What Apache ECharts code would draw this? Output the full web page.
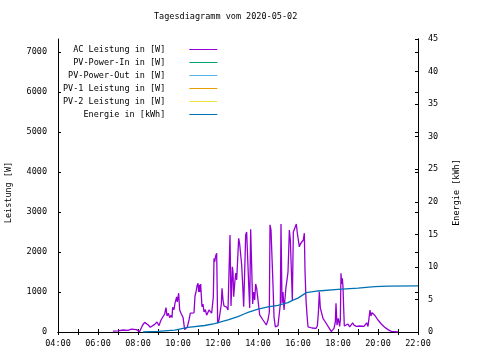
<!DOCTYPE html>
<html><head><meta charset="utf-8">
<script src="https://cdn.jsdelivr.net/npm/echarts@6/dist/echarts.min.js"></script>
<style>html,body{margin:0;padding:0;background:#fff}#c{width:480px;height:360px}</style>
</head><body><div id="c"></div>
<script>
const titleText = 'Tagesdiagramm vom 2020-05-02';
const seriesNames = ['AC Leistung in [W]','PV-Power-In in [W]','PV-Power-Out in [W]','PV-1 Leistung in [W]','PV-2 Leistung in [W]','Energie in [kWh]'];
const seriesColors = ['#9400d3','#009e73','#56b4e9','#e69f00','#f0e442','#0072b2'];
const leftAxisName = 'Leistung [W]';
const rightAxisName = 'Energie [kWh]';

const acTimes = ['06:45','07:00','07:15','07:30','07:40','07:55','08:05','08:10','08:14','08:20','08:25','08:30','08:37','08:43','08:50','08:57','09:03','09:09','09:15','09:20','09:24','09:27','09:31','09:35','09:39','09:42','09:44','09:48','09:51','09:56','09:58','10:02','10:05','10:10','10:15','10:20','10:24','10:28','10:33','10:37','10:43','10:48','10:51','10:54','10:57','11:00','11:02','11:04','11:06','11:08','11:10','11:12','11:15','11:18','11:22','11:26','11:30','11:33','11:37','11:41','11:44','11:46','11:48','11:50','11:53','11:56','11:59','12:03','12:06','12:10','12:12','12:15','12:18','12:22','12:26','12:30','12:34','12:36','12:39','12:41','12:43','12:45','12:47','12:50','12:53','12:56','12:59','13:02','13:05','13:08','13:11','13:14','13:17','13:20','13:23','13:26','13:29','13:32','13:35','13:38','13:41','13:44','13:47','13:50','13:53','13:56','13:59','14:02','14:05','14:10','14:15','14:20','14:25','14:30','14:34','14:36','14:39','14:42','14:45','14:48','14:52','14:56','15:00','15:04','15:07','15:09','15:12','15:15','15:18','15:21','15:24','15:27','15:30','15:32','15:34','15:37','15:40','15:43','15:46','15:49','15:52','15:55','15:58','16:01','16:04','16:07','16:10','16:13','16:16','16:19','16:21','16:24','16:27','16:30','16:36','16:42','16:48','16:54','16:58','17:01','17:04','17:07','17:10','17:15','17:22','17:28','17:34','17:40','17:44','17:48','17:52','17:54','17:57','18:01','18:05','18:07','18:09','18:11','18:13','18:15','18:17','18:19','18:24','18:30','18:35','18:40','18:44','18:48','18:55','19:00','19:06','19:12','19:18','19:22','19:26','19:30','19:34','19:36','19:39','19:42','19:45','19:50','19:55','20:00','20:05','20:10','20:15','20:20','20:25','20:30','20:35','20:40','20:45','21:00'];
const acValues = [20,30,50,40,70,60,10,60,175,240,250,180,120,130,190,250,160,300,280,450,610,400,470,360,420,360,620,560,720,880,750,970,550,450,370,60,60,130,300,470,460,480,900,1000,1150,1220,1000,1180,1000,1200,900,630,700,500,560,420,450,550,520,470,470,880,1840,1750,1900,1970,220,300,300,700,1090,800,650,650,620,550,600,2425,650,1100,1630,1500,880,1200,1470,1300,1300,2340,2200,2217,1675,1200,630,1500,2425,2500,2500,1200,600,2570,2570,700,1000,800,1200,1090,1050,1090,430,400,300,250,175,300,500,2680,2550,2600,1175,380,130,140,160,470,700,2700,720,1000,550,600,1130,1300,1500,2000,2550,2300,2300,800,2500,2550,2500,2700,2470,2300,2130,2200,2217,2150,2300,2470,1550,800,425,130,90,100,130,90,150,470,1000,600,550,340,250,220,90,10,60,90,250,720,170,340,140,300,1470,1200,1340,1130,600,150,160,200,130,150,230,170,140,130,150,130,140,150,230,140,150,550,400,480,470,420,380,300,260,200,170,120,90,60,30,15,8,0];

const energyTimes = ['08:15','09:00','09:50','10:30','11:20','11:50','12:30','13:00','13:20','13:30','14:00','14:30','15:00','15:30','15:45','16:00','16:25','17:00','18:00','19:00','19:50','20:30','22:00'];
const energyValues = [0,0.1,0.3,0.7,1.0,1.3,1.85,2.36,2.8,3.0,3.5,3.85,4.1,4.5,4.9,5.2,6.05,6.3,6.55,6.75,6.96,7.05,7.07];

const xMinHour = 4, xMaxHour = 22;
const leftMax = 7325, leftStep = 1000;
const rightMax = 45, rightStep = 5;

function toHours(s){const p=s.split(':').map(Number);return p[0]+p[1]/60;}
function pairs(times, vals){return times.map((t,i)=>[toHours(t), vals[i]]);}

const FONT = 'DejaVu Sans Mono';
const txt = {fontFamily: FONT, fontSize: 8.5, color: '#000'};
const axLine = {show: true, lineStyle: {color: '#000', width: 1}};
const tick = {show: true, inside: true, length: 3, lineStyle: {color: '#000'}};

const chart = echarts.init(document.getElementById('c'), null, {renderer: 'canvas'});
const series = seriesNames.map((name, i) => ({
  name: name,
  type: 'line',
  symbol: 'none',
  xAxisIndex: 0,
  yAxisIndex: i === 5 ? 1 : 0,
  color: seriesColors[i],
  lineStyle: {width: 1.3, color: seriesColors[i]},
  animation: false,
  data: i === 0 ? pairs(acTimes, acValues) : (i === 5 ? pairs(energyTimes, energyValues) : [])
}));

chart.setOption({
  animation: false,
  backgroundColor: '#fff',
  title: {text: titleText, left: 154, top: 12, padding: 0,
    textStyle: {fontFamily: FONT, fontSize: 8.5, fontWeight: 'normal', color: '#000'}},
  legend: {
    orient: 'vertical', left: 63, top: 43, padding: 0, align: 'right',
    icon: 'rect', itemWidth: 28, itemHeight: 1, itemGap: 0,
    textStyle: {fontFamily: FONT, fontSize: 8.5, color: '#000', lineHeight: 13, padding: [0, 19, 0, 0]},
    data: seriesNames
  },
  grid: {left: 58, right: 62, top: 39, bottom: 28, containLabel: false, outerBoundsMode: 'none'},
  xAxis: [
    {type: 'value', position: 'bottom', min: xMinHour, max: xMaxHour, interval: 1,
      axisLine: axLine, axisTick: tick, splitLine: {show: false},
      axisLabel: Object.assign({margin: 7, formatter: v => (v % 2 === 0 ? String(v).padStart(2, '0') + ':00' : '')}, txt)},
    {type: 'value', position: 'top', min: xMinHour, max: xMaxHour, interval: 1,
      axisLine: axLine, axisTick: tick, splitLine: {show: false}, axisLabel: {show: false}}
  ],
  yAxis: [
    {type: 'value', position: 'left', min: 0, max: leftMax, interval: leftStep,
      name: leftAxisName, nameLocation: 'middle', nameGap: 45, nameRotate: 90,
      nameTextStyle: {fontFamily: FONT, fontSize: 8.5, color: '#000', padding: [0, 14, 0, 0]},
      axisLine: axLine, axisTick: tick, splitLine: {show: false},
      axisLabel: Object.assign({margin: 11, showMaxLabel: false, formatter: v => String(v)}, txt)},
    {type: 'value', position: 'right', min: 0, max: rightMax, interval: rightStep,
      name: rightAxisName, nameLocation: 'middle', nameGap: 34, nameRotate: 90,
      nameTextStyle: {fontFamily: FONT, fontSize: 8.5, color: '#000', padding: [0, 14, 0, 0]},
      axisLine: axLine, axisTick: tick, splitLine: {show: false},
      axisLabel: Object.assign({margin: 10, formatter: v => String(v)}, txt)},
    {type: 'value', position: 'right', min: 0, max: leftMax, interval: leftStep,
      axisLine: axLine, axisTick: tick, splitLine: {show: false}, axisLabel: {show: false}}
  ],
  series: series
});
</script>
</body></html>
